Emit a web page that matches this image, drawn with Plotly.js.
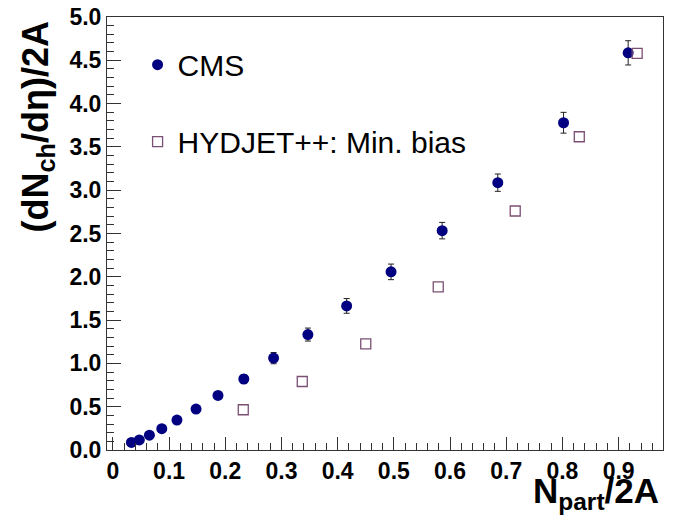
<!DOCTYPE html>
<html>
<head>
<meta charset="utf-8">
<script src="https://cdn.plot.ly/plotly-3.0.1.min.js"></script>
<style>html,body{margin:0;padding:0;background:#fff;}#chart{width:683px;height:516px;}</style>
</head>
<body>
<div id="chart"></div>
<script>
// CMS data
const cmsX = [0.033, 0.047, 0.065, 0.087, 0.114, 0.148, 0.187, 0.233, 0.286, 0.347, 0.416, 0.495, 0.586, 0.685, 0.802, 0.917];
const cmsY = [0.088, 0.116, 0.171, 0.246, 0.346, 0.473, 0.630, 0.820, 1.061, 1.333, 1.664, 2.057, 2.533, 3.087, 3.779, 4.586];
const cmsErr = [0.010, 0.010, 0.012, 0.015, 0.020, 0.025, 0.035, 0.050, 0.065, 0.075, 0.085, 0.090, 0.095, 0.100, 0.120, 0.140];
// HYDJET++ min. bias
const hydX = [0.232, 0.337, 0.450, 0.579, 0.716, 0.830, 0.933];
const hydY = [0.465, 0.791, 1.226, 1.883, 2.760, 3.617, 4.579];
// labels
const cmsName = 'CMS';
const hydName = 'HYDJET++: Min. bias';
const xTitle = '<b>N<sub>part</sub>/2A</b>';
const yTitle = '<b>(dN<sub>ch</sub>/dη)/2A</b>';

const FONT = 'Liberation Sans, Arial, Helvetica, sans-serif';
const AX = '#333333';

const traces = [
  {
    x: cmsX, y: cmsY, name: cmsName, type: 'scatter', mode: 'markers',
    marker: {symbol: 'circle', size: 11, color: 'rgb(0,0,128)'},
    error_y: {type: 'data', array: cmsErr, visible: true, color: '#222', thickness: 1, width: 3},
    legendgroup: 'a'
  },
  {
    x: hydX, y: hydY, name: hydName, type: 'scatter', mode: 'markers',
    marker: {symbol: 'square-open', size: 10, color: '#7b4f73', line: {width: 1.3, color: '#7b4f73'}},
    legendgroup: 'b'
  }
];

const layout = {
  width: 683, height: 516,
  margin: {l: 107.3, r: 20.3, t: 16.7, b: 65.7, pad: 0},
  paper_bgcolor: '#fff', plot_bgcolor: '#fff',
  font: {family: FONT, color: '#000'},
  showlegend: true,
  legend: {
    x: 0.055, y: 0.95, xanchor: 'left', yanchor: 'top',
    bgcolor: 'rgba(0,0,0,0)', borderwidth: 0,
    font: {family: FONT, size: 30, color: '#000'},
    tracegroupgap: 35, traceorder: 'grouped',
    itemwidth: 30
  },
  xaxis: {
    range: [-0.0105, 0.979], autorange: false,
    dtick: 0.1, tick0: 0,
    ticks: 'inside', ticklen: 13, tickwidth: 1, tickcolor: AX,
    minor: {dtick: 0.02, tick0: 0, ticks: 'inside', ticklen: 7, tickwidth: 1, tickcolor: AX, showgrid: false},
    showgrid: false, zeroline: false,
    showline: true, linecolor: AX, linewidth: 1, mirror: true,
    tickfont: {family: FONT, size: 23, weight: 'bold', color: '#000'}
  },
  yaxis: {
    range: [0, 5.0], autorange: false,
    dtick: 0.5, tick0: 0, tickformat: '.1f',
    ticks: 'inside', ticklen: 14, tickwidth: 1, tickcolor: AX,
    minor: {dtick: 0.1, tick0: 0, ticks: 'inside', ticklen: 7, tickwidth: 1, tickcolor: AX, showgrid: false},
    showgrid: false, zeroline: false,
    showline: true, linecolor: AX, linewidth: 1, mirror: true,
    tickfont: {family: FONT, size: 23, weight: 'bold', color: '#000'}
  },
  annotations: [
    {
      text: xTitle, xref: 'paper', yref: 'paper', x: 0.997, y: -0.1,
      xanchor: 'right', yanchor: 'middle', showarrow: false,
      font: {family: FONT, size: 35, color: '#000'}
    },
    {
      text: yTitle, xref: 'paper', yref: 'paper', x: -0.125, y: 0.746,
      xanchor: 'center', yanchor: 'middle', showarrow: false, textangle: -90,
      font: {family: FONT, size: 36, color: '#000'}
    }
  ]
};

Plotly.newPlot('chart', traces, layout, {displayModeBar: false, staticPlot: true});
</script>
</body>
</html>
